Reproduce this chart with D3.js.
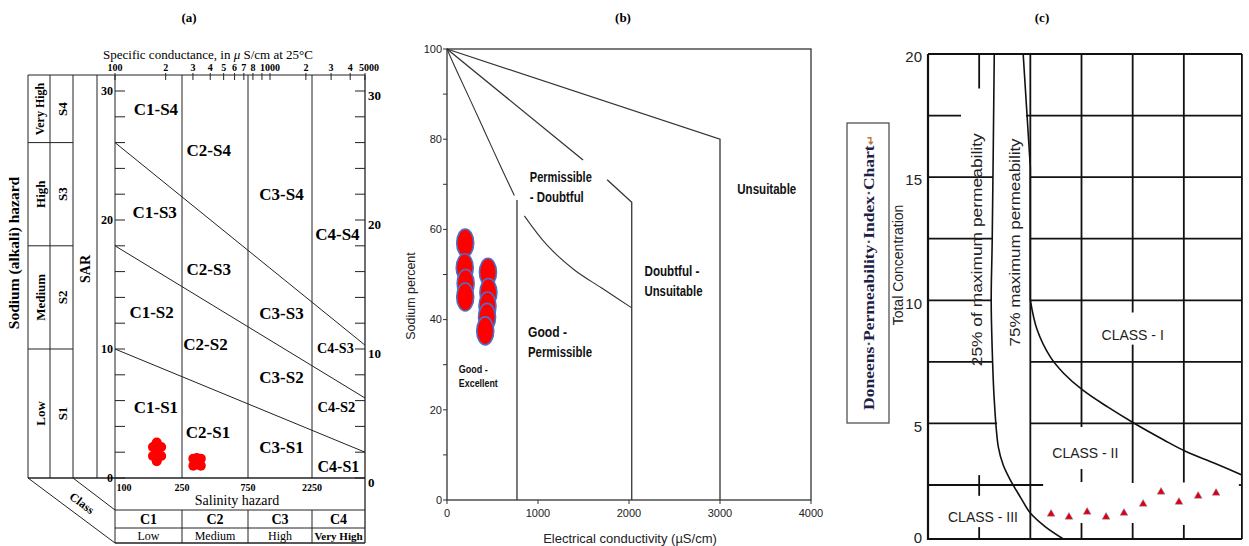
<!DOCTYPE html>
<html>
<head>
<meta charset="utf-8">
<script src="https://cdn.jsdelivr.net/npm/d3@7"></script>
<style>
  html, body { margin: 0; padding: 0; background: #fff; }
  svg { display: block; }
</style>
</head>
<body>
<svg id="chart" width="1249" height="546"></svg>
<script>
// ---------------- (a) USSL salinity / sodium hazard diagram ----------------
const ecClassBreaks = [100, 250, 750, 2250, 5000];
const salinityClasses = ["C1", "C2", "C3", "C4"];
const salinityLevels = ["Low", "Medium", "High", "Very High"];
const sodiumClasses = ["S1", "S2", "S3", "S4"];
const sodiumLevels = ["Low", "Medium", "High", "Very High"];
const sodiumBreaksSAR = [0, 10, 18, 26, 31.2];
const conductanceTicks = [100, 200, 300, 400, 500, 600, 700, 800, 900, 1000, 2000, 3000, 4000, 5000];
const conductanceTickLabels = ["100", "2", "3", "4", "5", "6", "7", "8", "", "1000", "2", "3", "4", "5000"];
const sarLabelTicks = [0, 10, 20, 30];
// sodium hazard boundaries: SAR at EC = 100 and at EC = 5000
const boundarySARatLow = [10, 18, 26];
const boundarySARatHigh = [2.0, 6.2, 10.3];
const ussLRegionNames = ["C1-S4", "C2-S4", "C3-S4", "C4-S4", "C1-S3", "C2-S3", "C3-S3", "C4-S3",
                         "C1-S2", "C2-S2", "C3-S2", "C4-S2", "C1-S1", "C2-S1", "C3-S1", "C4-S1"];
const ussLRegionEC  = [175, 390, 1250, 3300, 172, 390, 1250, 3200, 165, 370, 1250, 3250, 175, 385, 1250, 3350];
const ussLRegionSAR = [28.6, 25.4, 22.0, 18.9, 20.6, 16.2, 12.8, 10.1, 12.9, 10.4, 7.8, 5.5, 5.5, 3.6, 2.4, 0.9];
const ussLRegionSize = [17, 17, 17, 17, 17, 17, 17, 14, 17, 17, 17, 14.5, 17, 17, 17, 16];
const sampleEC_a  = [168, 188, 168, 188, 177, 177, 177, 302, 342, 302, 342, 320, 320];
const sampleSAR_a = [2.4, 2.4, 1.7, 1.7, 2.75, 1.3, 2.05, 1.5, 1.5, 0.95, 0.95, 1.25, 1.55];

// ---------------- (b) Wilcox diagram ----------------
const ecTicksB = [0, 1000, 2000, 3000, 4000];
const naTicksB = [0, 10, 20, 30, 40, 50, 60, 70, 80, 90, 100];
const naLabelTicksB = [0, 20, 40, 60, 80, 100];
const unsuitableBoundary = [[0, 100], [3000, 80], [3000, 0]];
const doubtfulBoundaryUpper = [[0, 100], [1495, 75.4]];
const doubtfulBoundaryLower = [[1760, 71], [2030, 66], [2030, 0]];
const permissibleCurveUpper = [[0, 100], [110, 95], [260, 88.5], [430, 81], [600, 73.5], [740, 67.5]];
const permissibleCurveLower = [[850, 63], [1100, 56.5], [1400, 51], [1700, 47], [2030, 42.6]];
const excellentBoundary = [[769, 66.5], [769, 0]];
const sampleEC_b = [200, 195, 205, 200, 450, 455, 445, 440, 420];
const sampleNa_b = [57, 51.5, 48, 45, 50.5, 46, 43, 40.5, 37.5];
const wilcoxLabels = [["Permissible", "- Doubtful"], ["Unsuitable"], ["Doubtful -", "Unsuitable"], ["Good -", "Permissible"], ["Good -", "Excellent"]];
const wilcoxLabelEC = [910, 3190, 2170, 890, 130];
const wilcoxLabelNa = [70.6, 67.8, 49.6, 36.2, 28.2];

// ---------------- (c) Doneen permeability index chart ----------------
const tcTicks = [0, 5, 10, 15, 20];
const curve25 = [[25.9, 20], [25.1, 12.45], [24.7, 10.0], [25.1, 8.0], [25.9, 5.95], [27.5, 4.04],
                 [29.4, 3.31], [32.2, 2.70], [36.1, 1.94], [40.0, 1.20], [45.9, 0.56], [52.9, 0]];
const curve75Top = [[37.2, 20], [40.0, 15.4], [40.0, 10.0]];
const curve75 = [[40.0, 10.0], [42.7, 8.79], [47.8, 7.70], [52.9, 7.05], [60.4, 6.36], [70.2, 5.67],
                 [80.4, 5.02], [92.2, 4.33], [100.4, 3.88], [111.8, 3.39], [122.7, 2.91]];
const piSamples = [48.1, 55.1, 62.2, 69.6, 76.6, 84.1, 91.1, 98.1, 105.6, 112.6];
const tcSamples = [1.16, 1.02, 1.25, 1.02, 1.20, 1.62, 2.18, 1.71, 1.99, 2.13];
const gridRowsC = [17.5, 15, 12.5, 10, 7.5, 5, 2.5];
const gridRowSpans = [[[0, 12.9], [38.3, 122.7]], [[0, 25.4], [40, 122.7]], [[0, 25.0], [40, 122.7]],
                      [[0, 25.0], [40, 122.7]], [[0, 25.0], [40, 122.7]], [[0, 27.0], [40, 122.7]],
                      [[0, 45.0], [121.5, 122.7]]];
const gridColsC = [20, 40, 60, 80, 100];
const gridColSpans = [[[18.6, 20], [2.0, 2.9], [0, 0.55]], [[0, 20]], [[4.85, 20], [2.62, 3.15], [0, 0.74]],
                      [[9.5, 20], [2.58, 8.2], [0, 0.74]], [[2.6, 20], [0, 0.65]]];
const doneenClasses = ["CLASS - I", "CLASS - II", "CLASS - III"];
const doneenClassPI = [80, 61.5, 21.5];
const doneenClassTC = [8.6, 3.8, 1.0];
const doneenAnnotations = ["25% of maximum permeability", "75% maximum permeability"];
const doneenAnnotationPI = [19.2, 34.0];
const doneenAnnotationTC = [12.05, 12.35];

const panelTitles = ["(a)", "(b)", "(c)"];

// ======================================================================
const svg = d3.select("#chart");
const SERIF = "'Liberation Serif', 'Times New Roman', serif";
const SANS = "'Liberation Sans', Arial, sans-serif";
const INK = "#222";

svg.append("rect").attr("width", 1249).attr("height", 546).attr("fill", "#fff");

svg.selectAll("text.ptitle").data(panelTitles).join("text")
  .attr("class", "ptitle")
  .attr("x", (d, i) => [189, 623, 1042][i]).attr("y", 22)
  .attr("text-anchor", "middle")
  .attr("font-family", SERIF).attr("font-weight", "bold").attr("font-size", 13)
  .text(d => d);

function seg(g, x1, y1, x2, y2, w = 1, c = INK) {
  g.append("line").attr("x1", x1).attr("y1", y1).attr("x2", x2).attr("y2", y2)
    .attr("stroke", c).attr("stroke-width", w);
}

// ------------------------------ panel (a) ------------------------------
(function () {
  const g = svg.append("g");
  const xA = d3.scaleLog().domain([100, 250, 750, 1000, 2250, 5000]).range([115, 182, 248, 270, 312, 365]);
  const yA = d3.scaleLinear().domain([0, 30]).range([478, 91]);
  const top = yA(31.24), bot = yA(0), L = xA(100), R = xA(5000);
  const colX = [28, 50, 73, 97];
  const lw = 1;

  // outer frame and side columns
  seg(g, colX[0], top, R, top, lw);
  seg(g, colX[0], bot, R, bot, 1.6);
  colX.forEach(x => seg(g, x, top, x, bot, lw));
  seg(g, L, top, L, 543, lw);
  seg(g, R, top, R, 543, 1.3);
  sodiumBreaksSAR.slice(1, 4).forEach(s => seg(g, colX[0], yA(s), colX[2], yA(s), lw));

  // salinity class verticals
  ecClassBreaks.slice(1, 4).forEach(v => seg(g, xA(v), top, xA(v), bot, lw));

  // sodium hazard boundaries
  const line = d3.line().x(d => xA(d[0])).y(d => yA(d[1]));
  boundarySARatLow.forEach((s, i) => {
    g.append("path").attr("d", line([[100, s], [5000, boundarySARatHigh[i]]]))
      .attr("fill", "none").attr("stroke", INK).attr("stroke-width", 1);
  });

  // top conductance axis
  conductanceTicks.forEach((t, i) => {
    seg(g, xA(t), top - 2, xA(t), top + 5, 1);
    if (conductanceTickLabels[i]) {
      g.append("text").attr("x", xA(t) + (t === 5000 ? 4 : 0)).attr("y", top - 4).attr("text-anchor", "middle")
        .attr("font-family", SERIF).attr("font-weight", "bold").attr("font-size", 10)
        .text(conductanceTickLabels[i]);
    }
  });
  const st = g.append("text").attr("x", 208).attr("y", 59).attr("text-anchor", "middle")
    .attr("font-family", SERIF).attr("font-size", 13);
  st.append("tspan").text("Specific conductance, in ");
  st.append("tspan").attr("font-style", "italic").text("\u03BC");
  st.append("tspan").text(" S/cm at 25\u00B0C");

  // SAR ticks, left and right
  d3.range(0, 31, 2).forEach(s => {
    seg(g, L, yA(s), L + 10, yA(s), 1);
    seg(g, R - 10, yA(s), R, yA(s), 1);
  });
  sarLabelTicks.forEach(s => {
    g.append("text").attr("x", L - 2).attr("y", yA(s)).attr("dy", "0.35em").attr("text-anchor", "end")
      .attr("font-family", SERIF).attr("font-weight", "bold").attr("font-size", 12).text(s);
    g.append("text").attr("x", R + 3).attr("y", yA(s) + 4).attr("dy", "0.35em")
      .attr("font-family", SERIF).attr("font-weight", "bold").attr("font-size", 13).text(s);
  });

  // region labels
  ussLRegionNames.forEach((n, i) => {
    g.append("text").attr("x", xA(ussLRegionEC[i])).attr("y", yA(ussLRegionSAR[i])).attr("dy", "0.35em")
      .attr("text-anchor", "middle").attr("font-family", SERIF).attr("font-weight", "bold")
      .attr("font-size", ussLRegionSize[i]).text(n);
  });

  // sodium class column labels
  sodiumClasses.forEach((c, i) => {
    const yc = (yA(sodiumBreaksSAR[i]) + yA(sodiumBreaksSAR[i + 1])) / 2;
    g.append("text").attr("transform", `translate(${(colX[1] + colX[2]) / 2 + 1},${yc}) rotate(-90)`)
      .attr("dy", "0.35em").attr("text-anchor", "middle").attr("font-family", SERIF)
      .attr("font-weight", "bold").attr("font-size", 13).text(c);
    g.append("text").attr("transform", `translate(${(colX[0] + colX[1]) / 2 + 1},${yc}) rotate(-90)`)
      .attr("dy", "0.35em").attr("text-anchor", "middle").attr("font-family", SERIF)
      .attr("font-weight", "bold").attr("font-size", i === 3 ? 12 : 13).text(sodiumLevels[i]);
  });
  g.append("text").attr("transform", `translate(${(colX[2] + colX[3]) / 2},${yA(16.2)}) rotate(-90)`)
    .attr("dy", "0.35em").attr("text-anchor", "middle").attr("font-family", SERIF)
    .attr("font-weight", "bold").attr("font-size", 14).text("SAR");
  g.append("text").attr("transform", `translate(14,253) rotate(-90)`)
    .attr("dy", "0.35em").attr("text-anchor", "middle").attr("font-family", SERIF)
    .attr("font-weight", "bold").attr("font-size", 15.5).text("Sodium (alkali) hazard");

  // bottom salinity table
  const tY = [bot, 510, 528, 543];
  seg(g, L, tY[1], R, tY[1], 1);
  seg(g, L, tY[2], R, tY[2], 1);
  seg(g, L, tY[3], R, tY[3], 1.3);
  ecClassBreaks.slice(1, 4).forEach(v => seg(g, xA(v), tY[1], xA(v), tY[3], 1));
  ecClassBreaks.slice(0, 4).forEach((v, i) => {
    g.append("text").attr("x", i === 0 ? xA(v) + 9 : xA(v)).attr("y", 491).attr("text-anchor", "middle")
      .attr("font-family", SERIF).attr("font-weight", "bold").attr("font-size", 10).text(v);
  });
  g.append("text").attr("x", 237).attr("y", 505).attr("text-anchor", "middle")
    .attr("font-family", SERIF).attr("font-size", 14).text("Salinity hazard");
  salinityClasses.forEach((c, i) => {
    const xc = (xA(ecClassBreaks[i]) + xA(ecClassBreaks[i + 1])) / 2;
    g.append("text").attr("x", xc).attr("y", 524).attr("text-anchor", "middle")
      .attr("font-family", SERIF).attr("font-weight", "bold").attr("font-size", 14).text(c);
    g.append("text").attr("x", xc).attr("y", 540).attr("text-anchor", "middle")
      .attr("font-family", SERIF).attr("font-weight", i === 3 ? "bold" : "normal")
      .attr("font-size", i === 3 ? 11 : 12).text(salinityLevels[i]);
  });
  // perspective edges
  seg(g, colX[0], bot, L, 543, 1);
  seg(g, colX[2], bot, L, 510, 1);
  g.append("text").attr("transform", "translate(82,503) rotate(36.8)")
    .attr("text-anchor", "middle").attr("dy", "0.35em").attr("font-family", SERIF)
    .attr("font-weight", "bold").attr("font-size", 12).text("Class");

  // samples
  g.selectAll("circle.sa").data(sampleEC_a).join("circle").attr("class", "sa")
    .attr("cx", d => xA(d)).attr("cy", (d, i) => yA(sampleSAR_a[i])).attr("r", 5)
    .attr("fill", "#ff0000");
})();

// ------------------------------ panel (b) ------------------------------
(function () {
  const g = svg.append("g");
  const xB = d3.scaleLinear().domain([0, 4000]).range([447, 811]);
  const yB = d3.scaleLinear().domain([0, 100]).range([500, 49]);
  g.append("rect").attr("x", xB(0)).attr("y", yB(100)).attr("width", xB(4000) - xB(0))
    .attr("height", yB(0) - yB(100)).attr("fill", "none").attr("stroke", "#333").attr("stroke-width", 1.3);
  naTicksB.forEach(v => seg(g, xB(0) - 4, yB(v), xB(0), yB(v), 1, "#333"));
  naLabelTicksB.forEach(v => g.append("text").attr("x", xB(0) - 5).attr("y", yB(v)).attr("dy", "0.35em")
    .attr("text-anchor", "end").attr("font-family", SANS).attr("font-size", 11).attr("fill", INK).text(v));
  ecTicksB.forEach(v => {
    seg(g, xB(v), yB(0), xB(v), yB(0) + 4, 1, "#333");
    g.append("text").attr("x", xB(v)).attr("y", yB(0) + 17).attr("text-anchor", "middle")
      .attr("font-family", SANS).attr("font-size", 11).attr("fill", INK).text(v);
  });
  g.append("text").attr("x", 630).attr("y", 543).attr("text-anchor", "middle")
    .attr("font-family", SANS).attr("font-size", 13).attr("fill", INK).text("Electrical conductivity  (\u00B5S/cm)");
  g.append("text").attr("transform", "translate(411,296) rotate(-90)").attr("text-anchor", "middle")
    .attr("dy", "0.35em").attr("font-family", SANS).attr("font-size", 12.5).attr("fill", INK).text("Sodium percent");

  const line = d3.line().x(d => xB(d[0])).y(d => yB(d[1]));
  const curve = d3.line().x(d => xB(d[0])).y(d => yB(d[1])).curve(d3.curveCatmullRom.alpha(0.5));
  [unsuitableBoundary, doubtfulBoundaryUpper, doubtfulBoundaryLower, excellentBoundary].forEach(p =>
    g.append("path").attr("d", line(p)).attr("fill", "none").attr("stroke", "#333").attr("stroke-width", 1.3));
  [permissibleCurveUpper, permissibleCurveLower].forEach(p =>
    g.append("path").attr("d", curve(p)).attr("fill", "none").attr("stroke", "#333").attr("stroke-width", 1.1));

  // condensed bold zone names
  const lineWidths = [[62, 54], [59], [55, 58], [39, 64], [29, 39]];
  wilcoxLabels.forEach((lines, i) => {
    lines.forEach((l, k) => g.append("text")
      .attr("x", xB(wilcoxLabelEC[i]))
      .attr("y", yB(wilcoxLabelNa[i]) + k * (i === 4 ? 14 : 20))
      .attr("font-family", SANS).attr("font-weight", "bold")
      .attr("font-size", i === 4 ? 11 : 14).attr("fill", "#111")
      .attr("textLength", lineWidths[i][k]).attr("lengthAdjust", "spacingAndGlyphs")
      .text(l));
  });

  g.selectAll("ellipse.sb").data(sampleEC_b).join("ellipse").attr("class", "sb")
    .attr("cx", d => xB(d)).attr("cy", (d, i) => yB(sampleNa_b[i]))
    .attr("rx", 8.5).attr("ry", 14)
    .attr("fill", "#ff0000").attr("stroke", "#4a72c8").attr("stroke-width", 1.6);
})();

// ------------------------------ panel (c) ------------------------------
(function () {
  const g = svg.append("g");
  const xC = d3.scaleLinear().domain([0, 120]).range([928, 1235]);
  const yC = d3.scaleLinear().domain([0, 2.5, 20]).range([539, 485, 54]);
  const L = xC(0), R = xC(122.7), T = yC(20), B = yC(0);
  const gw = 1.8, gc = "#111";

  seg(g, L, T, R, T, gw, gc);
  seg(g, L - 1, B, R, B, 2.2, gc);
  seg(g, L, T, L, B + 1, 2.2, gc);
  seg(g, R, T, R, B, gw, gc);

  gridRowsC.forEach((v, i) => gridRowSpans[i].forEach(s => seg(g, xC(s[0]), yC(v), xC(s[1]), yC(v), gw, gc)));
  gridColsC.forEach((v, i) => gridColSpans[i].forEach(s => seg(g, xC(v), yC(s[0]), xC(v), yC(s[1]), gw, gc)));

  const line = d3.line().x(d => xC(d[0])).y(d => yC(d[1]));
  const curve = d3.line().x(d => xC(d[0])).y(d => yC(d[1])).curve(d3.curveCatmullRom.alpha(0.5));
  g.append("path").attr("d", curve(curve25)).attr("fill", "none").attr("stroke", gc).attr("stroke-width", 1.6);
  g.append("path").attr("d", line(curve75Top)).attr("fill", "none").attr("stroke", gc).attr("stroke-width", 1.6);
  g.append("path").attr("d", curve(curve75)).attr("fill", "none").attr("stroke", gc).attr("stroke-width", 1.6);

  tcTicks.forEach(v => g.append("text").attr("x", L - 6).attr("y", v === 0 ? yC(v) - 1 : yC(v) + 3).attr("dy", "0.35em")
    .attr("text-anchor", "end").attr("font-family", SANS).attr("font-size", 15).attr("fill", INK).text(v));
  g.append("text").attr("transform", "translate(898,265) rotate(-90)").attr("text-anchor", "middle")
    .attr("dy", "0.35em").attr("font-family", SANS).attr("font-size", 14).attr("fill", INK).text("Total Concentration");

  doneenClasses.forEach((c, i) => g.append("text").attr("x", xC(doneenClassPI[i])).attr("y", yC(doneenClassTC[i]))
    .attr("dy", "0.35em").attr("text-anchor", "middle").attr("font-family", SANS).attr("font-size", 14)
    .attr("fill", INK).text(c));
  const annLen = [233, 208];
  doneenAnnotations.forEach((c, i) => g.append("text")
    .attr("transform", `translate(${xC(doneenAnnotationPI[i])},${yC(doneenAnnotationTC[i])}) rotate(-90)`)
    .attr("dy", "0.35em").attr("text-anchor", "middle").attr("font-family", SANS).attr("font-size", 15)
    .attr("textLength", annLen[i]).attr("lengthAdjust", "spacingAndGlyphs")
    .attr("fill", INK).text(c));

  // chart name box
  g.append("rect").attr("x", 847).attr("y", 123).attr("width", 42).attr("height", 300)
    .attr("fill", "#fff").attr("stroke", "#444").attr("stroke-width", 1.2);
  const nm = g.append("text").attr("transform", "translate(869,273) rotate(-90)").attr("text-anchor", "middle")
    .attr("dy", "0.35em").attr("font-family", SERIF).attr("font-weight", "bold").attr("font-size", 15)
    .attr("textLength", 274).attr("lengthAdjust", "spacingAndGlyphs")
    .attr("fill", "#1d2142");
  ["Doneens", "Permeability", "Index", "Chart"].forEach((w, i) => {
    if (i) nm.append("tspan").attr("fill", "#555").text("\u00B7");
    nm.append("tspan").text(w);
  });
  nm.append("tspan").attr("fill", "#b8773a").attr("font-size", 10).text("\u21B5");

  g.selectAll("path.tri").data(piSamples).join("path").attr("class", "tri")
    .attr("d", d3.symbol().type(d3.symbolTriangle).size(26))
    .attr("transform", (d, i) => `translate(${xC(d)},${yC(tcSamples[i])})`)
    .attr("fill", "#e00000").attr("stroke", "#7d8fd6").attr("stroke-width", 0.5);
})();
</script>
</body>
</html>
